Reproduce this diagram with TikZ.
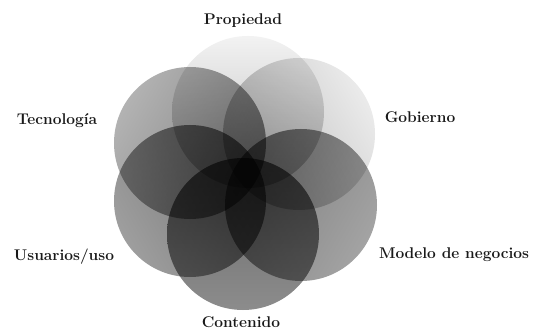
\documentclass[tikz,border=0pt]{standalone}
\usetikzlibrary{shadings}
\begin{document}
\begin{tikzpicture}[x=1pt,y=-1pt,
  ring/.style={circle, inner sep=0pt, minimum size=152pt, draw=none},
  lbl/.style={anchor=base, text=black!90, font=\fontsize{15.5}{18}\selectfont\bfseries}]
\fill[white] (0,0) rectangle (535,331);
\useasboundingbox (0,0) rectangle (535,331);
\begin{scope}[blend mode=multiply]
\node[ring, top color=black!5,  bottom color=black!27, shading angle=0]    (prop) at (248,112) {};
\node[ring, top color=black!8,  bottom color=black!28, shading angle=-60]  (gob)  at (299,134) {};
\node[ring, top color=black!36, bottom color=black!52, shading angle=-120] (mod)  at (301,205) {};
\node[ring, top color=black!45, bottom color=black!60, shading angle=180]  (cont) at (243,234) {};
\node[ring, top color=black!38, bottom color=black!56, shading angle=120]  (usu)  at (190,201) {};
\node[ring, top color=black!30, bottom color=black!50, shading angle=60]   (tec)  at (190,143) {};
\end{scope}
\node[lbl] (lprop) at (243,25)  {Propiedad};
\node[lbl] (lgob)  at (420,123) {Gobierno};
\node[lbl] (lmod)  at (454,258) {Modelo de negocios};
\node[lbl] (lcont) at (241,327) {Contenido};
\node[lbl] (lusu)  at (64,260)  {Usuarios/uso};
\node[lbl] (ltec)  at (57,125)  {Tecnología};
\end{tikzpicture}
\end{document}
